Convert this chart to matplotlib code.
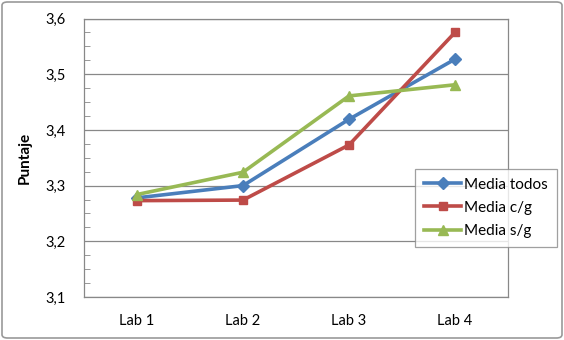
import matplotlib
matplotlib.use("Agg")
import matplotlib.pyplot as plt
from matplotlib.patches import FancyBboxPatch
from matplotlib.ticker import MultipleLocator, FuncFormatter

labs = ["Lab 1", "Lab 2", "Lab 3", "Lab 4"]
media_todos = [3.278, 3.300, 3.419, 3.527]
media_cg = [3.273, 3.274, 3.373, 3.575]
media_sg = [3.284, 3.324, 3.461, 3.481]

plt.rcParams["font.family"] = ["Lato", "DejaVu Sans"]

fig = plt.figure(figsize=(5.64, 3.40), dpi=100)
ax = fig.add_axes([84 / 564, 1 - 297 / 340, 424 / 564, 278.5 / 340])

x = range(len(labs))
ax.plot(x, media_todos, color="#4A7EBB", lw=2.6, marker="D", ms=6, label="Media todos", zorder=3)
ax.plot(x, media_cg, color="#BE4B48", lw=2.6, marker="s", ms=6, label="Media c/g", zorder=3)
ax.plot(x, media_sg, color="#98B954", lw=2.6, marker="^", ms=7, label="Media s/g", zorder=3)

ax.set_xlim(-0.5, 3.5)
ax.set_ylim(3.1, 3.6)
ax.set_xticks(list(x))
ax.set_xticklabels(labs, fontsize=10.5)
ax.yaxis.set_major_locator(MultipleLocator(0.1))
ax.yaxis.set_minor_locator(MultipleLocator(0.025))
ax.yaxis.set_major_formatter(FuncFormatter(lambda v, p: f"{v:.1f}".replace(".", ",")))
ax.tick_params(axis="y", which="major", length=0, labelsize=10.5, pad=13)
ax.tick_params(axis="y", which="minor", direction="in", length=4, color="#888888")
ax.tick_params(axis="x", length=0, labelsize=10.5, pad=12)
ax.grid(axis="y", which="major", color="#888888", lw=0.9)
ax.set_axisbelow(True)
for s in ax.spines.values():
    s.set_color("#888888")
    s.set_linewidth(0.9)

ax.set_ylabel("Puntaje", fontsize=11, fontweight="bold", labelpad=10)

leg = ax.legend(loc="upper left", bbox_to_anchor=(331 / 424, 1 - 150 / 278.5), fontsize=11,
                frameon=True, fancybox=False, borderaxespad=0, handlelength=2.4,
                handletextpad=0.2, labelspacing=0.6, borderpad=0.6)
leg.get_frame().set_edgecolor("#888888")
leg.get_frame().set_linewidth(0.9)

border = FancyBboxPatch((2 / 564, 2 / 340), 560 / 564, 336 / 340, transform=fig.transFigure,
                        boxstyle="round,pad=0,rounding_size=0.01", fill=False,
                        edgecolor="#999999", lw=1.2)
fig.patches.append(border)

fig.savefig("out.png", dpi=100)
